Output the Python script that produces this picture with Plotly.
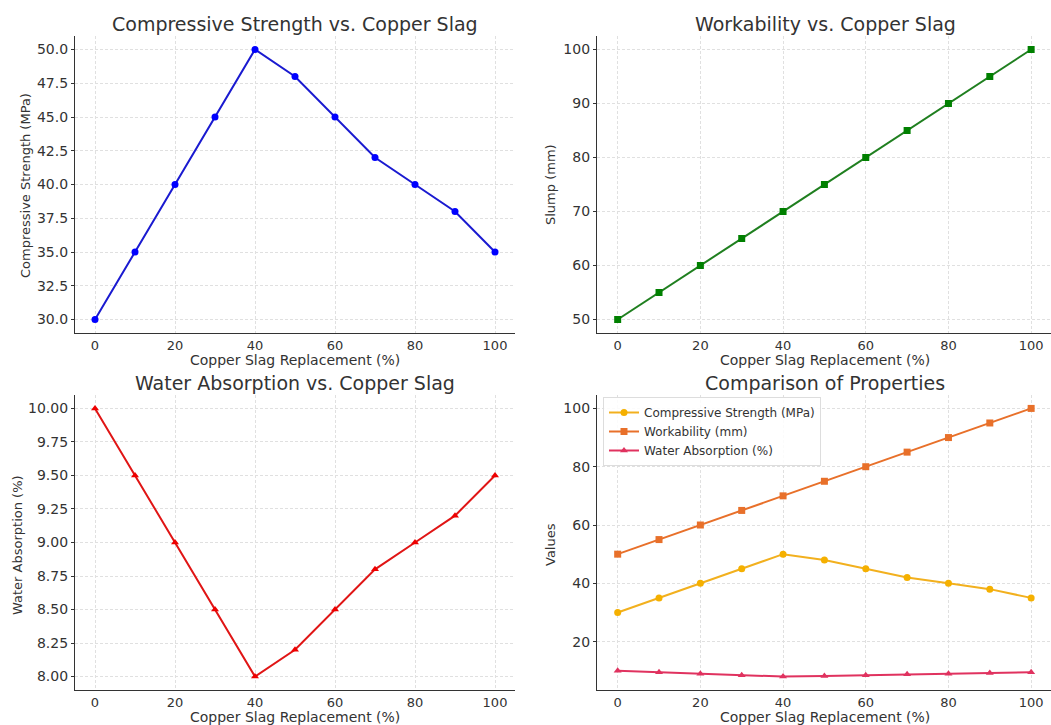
import plotly.graph_objects as go

replacement = [0, 10, 20, 30, 40, 50, 60, 70, 80, 90, 100]
compressive_strength = [30, 35, 40, 45, 50, 48, 45, 42, 40, 38, 35]
slump = [50, 55, 60, 65, 70, 75, 80, 85, 90, 95, 100]
water_absorption = [10.0, 9.5, 9.0, 8.5, 8.0, 8.2, 8.5, 8.8, 9.0, 9.2, 9.5]

W, H = 1051, 725
FONT = "DejaVu Sans"
TXT = "#333333"

def px(x):
    return x / W

def py(y):
    return 1 - y / H

fig = go.Figure()

fig.add_trace(go.Scatter(x=replacement, y=compressive_strength, mode="lines+markers",
                         line=dict(color="#1a1ad0", width=2),
                         marker=dict(symbol="circle", size=7, color="#0000ff"),
                         xaxis="x", yaxis="y", showlegend=False))
fig.add_trace(go.Scatter(x=replacement, y=slump, mode="lines+markers",
                         line=dict(color="#1f7f1f", width=2),
                         marker=dict(symbol="square", size=7, color="#008000"),
                         xaxis="x2", yaxis="y2", showlegend=False))
fig.add_trace(go.Scatter(x=replacement, y=water_absorption, mode="lines+markers",
                         line=dict(color="#e01515", width=2),
                         marker=dict(symbol="triangle-up", size=7, color="#ee0000"),
                         xaxis="x3", yaxis="y3", showlegend=False))
fig.add_trace(go.Scatter(x=replacement, y=compressive_strength, mode="lines+markers",
                         name="Compressive Strength (MPa)",
                         line=dict(color="#f2b01e", width=2),
                         marker=dict(symbol="circle", size=7, color="#f5b000"),
                         xaxis="x4", yaxis="y4"))
fig.add_trace(go.Scatter(x=replacement, y=slump, mode="lines+markers",
                         name="Workability (mm)",
                         line=dict(color="#e8702a", width=2),
                         marker=dict(symbol="square", size=7, color="#e8702a"),
                         xaxis="x4", yaxis="y4"))
fig.add_trace(go.Scatter(x=replacement, y=water_absorption, mode="lines+markers",
                         name="Water Absorption (%)",
                         line=dict(color="#e0325f", width=2),
                         marker=dict(symbol="triangle-up", size=7, color="#e0325f"),
                         xaxis="x4", yaxis="y4"))

grid_common = dict(showline=True, linecolor="#333333", linewidth=1.2,
                   showgrid=True, gridcolor="#e0e0e0", gridwidth=0.8, griddash="3px,2px",
                   zeroline=False)
y_common = dict(ticks="outside", ticklen=3, tickcolor="#333333",
                tickfont=dict(family=FONT, size=14, color=TXT), **grid_common)
x_common = dict(ticks="", tickfont=dict(family=FONT, size=13, color=TXT), **grid_common)

xticks = [0, 20, 40, 60, 80, 100]

left_dom = [px(75), px(515)]
right_dom = [px(597), 1.0]
top_dom = [py(333), py(36)]
bot_dom = [py(690), py(395)]

fig.update_layout(
    width=W, height=H, margin=dict(l=0, r=0, t=0, b=0),
    paper_bgcolor="white", plot_bgcolor="white",
    font=dict(family=FONT, color=TXT),
    xaxis=dict(domain=left_dom, anchor="y", range=[-5, 105], tickvals=xticks, **x_common),
    yaxis=dict(domain=top_dom, anchor="x", range=[29, 51],
               tickvals=[30, 32.5, 35, 37.5, 40, 42.5, 45, 47.5, 50],
               ticktext=["30.0", "32.5", "35.0", "37.5", "40.0", "42.5", "45.0", "47.5", "50.0"],
               **y_common),
    xaxis2=dict(domain=right_dom, anchor="y2", range=[-5, 104.8], tickvals=xticks, **x_common),
    yaxis2=dict(domain=top_dom, anchor="x2", range=[47.5, 102.5],
                tickvals=[50, 60, 70, 80, 90, 100], **y_common),
    xaxis3=dict(domain=left_dom, anchor="y3", range=[-5, 105], tickvals=xticks, **x_common),
    yaxis3=dict(domain=bot_dom, anchor="x3", range=[7.9, 10.1],
                tickvals=[8.0, 8.25, 8.5, 8.75, 9.0, 9.25, 9.5, 9.75, 10.0],
                ticktext=["8.00", "8.25", "8.50", "8.75", "9.00", "9.25", "9.50", "9.75", "10.00"],
                **y_common),
    xaxis4=dict(domain=right_dom, anchor="y4", range=[-5, 104.8], tickvals=xticks, **x_common),
    yaxis4=dict(domain=bot_dom, anchor="x4", range=[3.4, 104.6],
                tickvals=[20, 40, 60, 80, 100], **y_common),
    legend=dict(x=px(603), y=py(397), xanchor="left", yanchor="top",
                bgcolor="rgba(255,255,255,0.85)", bordercolor="#dddddd", borderwidth=1,
                font=dict(family=FONT, size=12, color=TXT), tracegroupgap=0,
                itemwidth=30),
)

annos = []
def title(text, x, y):
    annos.append(dict(text=text, x=px(x), y=py(y), xref="paper", yref="paper",
                      showarrow=False, xanchor="center", yanchor="middle",
                      font=dict(family=FONT, size=19, color=TXT)))

def xtitle(text, x, y):
    annos.append(dict(text=text, x=px(x), y=py(y), xref="paper", yref="paper",
                      showarrow=False, xanchor="center", yanchor="middle",
                      font=dict(family=FONT, size=14, color=TXT)))

def ytitle(text, x, y):
    annos.append(dict(text=text, x=px(x), y=py(y), xref="paper", yref="paper",
                      showarrow=False, xanchor="center", yanchor="middle", textangle=-90,
                      font=dict(family=FONT, size=13, color=TXT)))

title("Compressive Strength vs. Copper Slag", 295, 24)
title("Workability vs. Copper Slag", 825, 24)
title("Water Absorption vs. Copper Slag", 295, 383)
title("Comparison of Properties", 825, 383)

xtitle("Copper Slag Replacement (%)", 295, 360)
xtitle("Copper Slag Replacement (%)", 825, 360)
xtitle("Copper Slag Replacement (%)", 295, 717)
xtitle("Copper Slag Replacement (%)", 825, 717)

ytitle("Compressive Strength (MPa)", 25, 186)
ytitle("Slump (mm)", 550, 185)
ytitle("Water Absorption (%)", 17, 545)
ytitle("Values", 550, 545)

fig.update_layout(annotations=annos)

fig.write_html("out.html", config={"displayModeBar": False},
               post_script="document.body.style.margin='0';document.body.style.overflow='hidden';")
